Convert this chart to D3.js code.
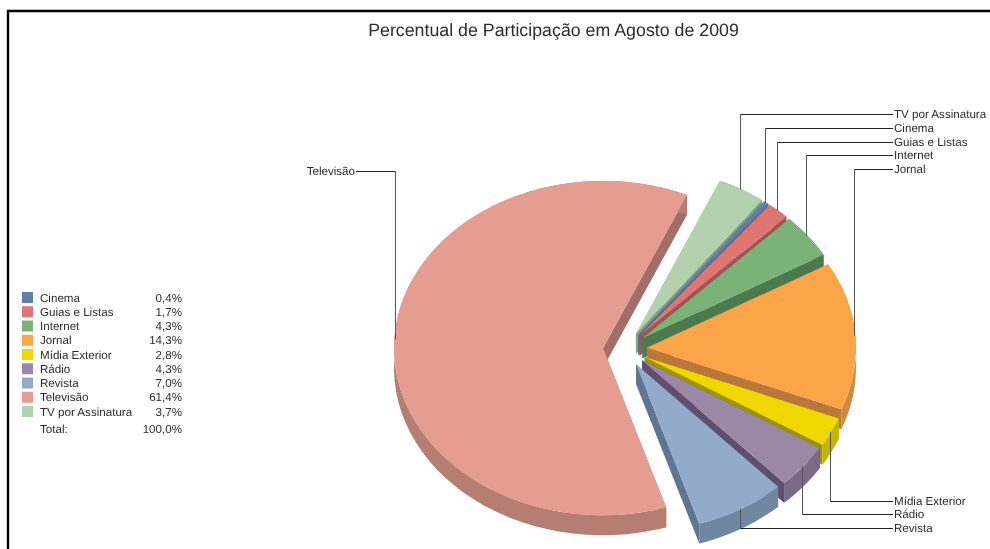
<!DOCTYPE html>
<html>
<head>
<meta charset="utf-8">
<script src="https://cdn.jsdelivr.net/npm/d3@7"></script>
<style>
html, body { margin: 0; background: #fff; }
svg { display: block; filter: blur(0.35px); }
text { font-family: "Liberation Sans", Arial, sans-serif; fill: #2a2a2a; text-rendering: geometricPrecision; }
</style>
</head>
<body>
<script>
var categories = ["Cinema", "Guias e Listas", "Internet", "Jornal", "Mídia Exterior", "Rádio", "Revista", "Televisão", "TV por Assinatura"];
var shares = [0.4, 1.7, 4.3, 14.3, 2.8, 4.3, 7.0, 61.4, 3.7];
var totalShare = 100.0; // printed total, the rounded shares only add up to 99.9

var topColors = ["#5f7ea8", "#e07673", "#7ab277", "#fca548", "#eed800", "#9c87a6", "#92abca", "#e59c91", "#b3d1ae"];
var edgeColors = ["#47708a", "#a05455", "#4a7a4e", "#b9773a", "#9c9400", "#5f4e6e", "#5f7690", "#a46e68", "#80a083"];
var rimColors = ["#47708a", "#a05455", "#4a7a4e", "#d08a3e", "#c4b400", "#7a6a88", "#6f87a0", "#b67d73", "#80a083"];

// painted back to front, later slices cover the walls of the previous one
var drawOrder = ["Televisão", "TV por Assinatura", "Cinema", "Guias e Listas", "Internet", "Jornal", "Mídia Exterior", "Rádio", "Revista"];

// y of the label at the end of each leader line
var leaderY = {
    "TV por Assinatura": 114, "Cinema": 128, "Guias e Listas": 142, "Internet": 155, "Jornal": 169,
    "Mídia Exterior": 501, "Rádio": 514, "Revista": 528, "Televisão": 171
};

var w = 990;
var h = 549;
var cx = 625;
var cy = 349;
var rx = 209;
var squash = 0.8;
var explode = 22;
var depth = 20;

var svg = d3.select("body").append("svg").attr("width", w).attr("height", h);

// frame of the original screenshot
svg.append("path")
    .attr("d", "M8,549V11H990")
    .attr("fill", "none")
    .attr("stroke", "#000")
    .attr("stroke-width", 2.4);

svg.append("text")
    .attr("x", 553.5)
    .attr("y", 36)
    .attr("text-anchor", "middle")
    .attr("font-size", "17.8px")
    .text("Percentual de Participação em Agosto de 2009");

var xScale = d3.scaleLinear().domain([-1, 1]).range([-rx, rx]);
var yScale = d3.scaleLinear().domain([-1, 1]).range([rx * squash, -rx * squash]);

var pie = d3.pie()
    .sort(null)
    .startAngle(37 * Math.PI / 180)
    .endAngle(397 * Math.PI / 180);

var slices = pie(shares).map((d, i) => {
    var mid = (d.startAngle + d.endAngle) / 2;
    return {
        name: categories[i],
        value: d.value,
        a0: d.startAngle,
        a1: d.endAngle,
        mid: mid,
        top: topColors[i],
        edge: edgeColors[i],
        rim: rimColors[i],
        ax: cx + Math.sin(mid) * explode,
        ay: cy - Math.cos(mid) * explode * squash
    };
});

function rimPoint(s, a) {
    return [s.ax + xScale(Math.sin(a)), s.ay + yScale(Math.cos(a))];
}

var lineGen = d3.line();
var arcGen = d3.arc().innerRadius(0).outerRadius(rx);

drawOrder.forEach(name => {
    var s = slices.find(d => d.name === name);
    var g = svg.append("g");

    // the two straight walls
    [s.a0, s.a1].forEach(a => {
        var p = rimPoint(s, a);
        g.append("path")
            .attr("d", lineGen([[s.ax, s.ay], p, [p[0], p[1] + depth], [s.ax, s.ay + depth]]) + "Z")
            .attr("fill", s.edge);
    });

    // curved wall
    var rimTop = d3.range(0, 61).map(k => rimPoint(s, s.a0 + (s.a1 - s.a0) * k / 60));
    var rimBottom = rimTop.map(p => [p[0], p[1] + depth]).reverse();
    g.append("path")
        .attr("d", lineGen(rimTop.concat(rimBottom)) + "Z")
        .attr("fill", s.rim);

    // top face
    g.append("path")
        .attr("transform", "translate(" + s.ax + "," + s.ay + ") scale(1," + squash + ")")
        .attr("d", arcGen({ startAngle: s.a0, endAngle: s.a1 }))
        .attr("fill", s.top);
});

// leader lines and their labels
var leaders = svg.append("g");
slices.forEach(s => {
    var p = rimPoint(s, s.mid);
    var ly = leaderY[s.name];
    var isLeft = s.name === "Televisão";
    var endX = isLeft ? 356 : 893;
    var lx = isLeft ? Math.ceil(p[0]) + 0.5 : Math.floor(p[0]) - 0.5;
    leaders.append("path")
        .attr("d", lineGen([[lx, p[1]], [lx, ly + 0.5]]))
        .attr("stroke", "#555")
        .attr("stroke-width", 1);
    leaders.append("path")
        .attr("d", lineGen([[lx, ly + 0.5], [endX, ly + 0.5]]))
        .attr("stroke", "#222")
        .attr("stroke-width", 1);
    leaders.append("text")
        .attr("x", isLeft ? 355 : 894)
        .attr("y", ly + 4)
        .attr("text-anchor", isLeft ? "end" : "start")
        .attr("font-size", "11.6px")
        .text(s.name);
});

// legend
var fmt = v => v.toFixed(1).replace(".", ",") + "%";
var legendY = d3.scaleLinear().domain([0, 8]).range([297.5, 411.5]);
var legend = svg.append("g").attr("font-size", "11.6px");

slices.forEach((s, i) => {
    legend.append("rect")
        .attr("x", 22)
        .attr("y", legendY(i) - 5.5)
        .attr("width", 11)
        .attr("height", 11)
        .attr("fill", s.top);
    legend.append("text")
        .attr("x", 40)
        .attr("y", legendY(i) + 4)
        .text(s.name);
    legend.append("text")
        .attr("x", 182)
        .attr("y", legendY(i) + 4)
        .attr("text-anchor", "end")
        .text(fmt(s.value));
});

legend.append("text").attr("x", 40).attr("y", 433).text("Total:");
legend.append("text").attr("x", 182).attr("y", 433).attr("text-anchor", "end").text(fmt(totalShare));
</script>
</body>
</html>
